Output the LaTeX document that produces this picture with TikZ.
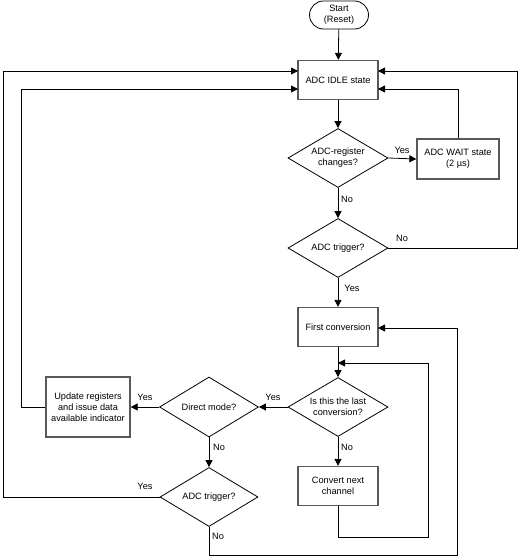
\documentclass[tikz,border=0pt]{standalone}
\usepackage{fontspec}
\setmainfont{Liberation Sans}
\usetikzlibrary{arrows.meta,shapes.geometric}
\begin{document}
\begin{tikzpicture}[x=1pt,y=-1pt,
  font=\fontsize{9.2}{11}\selectfont,
  line width=0.8pt,
  arr/.style={-{Triangle[length=7pt,width=7pt]}},
  procbox/.style={draw=black!65,line width=1.3pt,fill=white,minimum width=80pt,minimum height=39pt,inner sep=1pt,align=center},
  decision/.style={draw,diamond,aspect=1.7,inner sep=0pt,minimum width=100pt,minimum height=59pt,align=center},
  term/.style={draw,rectangle,rounded corners=14pt,minimum width=59pt,minimum height=28pt,inner sep=1pt,align=center},
  lbl/.style={inner sep=0pt,anchor=center}]
\useasboundingbox (0,0) rectangle (518,557);
\node[term] (start) at (339,15) {Start\\(Reset)};
\node[procbox] (idle) at (338,80) {ADC IDLE state};
\node[decision] (d1) at (338,158) {ADC-register\\changes?};
\node[procbox,minimum width=82pt,minimum height=40pt] (wait) at (458,159) {ADC WAIT state\\(2 µs)};
\node[decision] (d2) at (338,248) {ADC trigger?};
\node[procbox] (first) at (338,327) {First conversion};
\node[decision] (d3) at (338,407) {Is this the last\\conversion?};
\node[procbox] (conv) at (338,486) {Convert next\\channel};
\node[decision,minimum width=99pt,minimum height=60pt] (direct) at (209,407) {Direct mode?};
\node[procbox,minimum width=84pt,minimum height=60pt] (upd) at (88,407) {Update registers\\and issue data\\available indicator};
\node[decision,minimum width=98pt] (d4) at (209,497) {ADC trigger?};

\coordinate (idleL1) at (298,71);
\coordinate (idleL2) at (298,89);
\coordinate (idleR1) at (378,71);
\coordinate (idleR2) at (378,89);
\coordinate (loopin) at (338,363);
\coordinate (firstR) at (378,328);

\draw[arr] (start) -- (idle);
\draw[arr] (idle) -- (d1);
\draw[arr] (d1.east) -- (wait.west);
\draw[arr] (wait.north) |- (idleR2);
\draw[arr] (d1.south) -- (d2.north);
\draw[arr] (d2.east) -- (517,248) |- (idleR1);
\draw[arr] (d2.south) -- (first.north);
\draw[arr] (first.south) -- (d3.north);
\draw[arr] (d3.south) -- (conv.north);
\draw[arr] (conv.south) -- (338,537) -- (428,537) |- (loopin);
\draw[arr] (d3.west) -- (direct.east);
\draw[arr] (direct.west) -- (upd.east);
\draw[arr] (upd.west) -- (21,407) |- (idleL2);
\draw[arr] (direct.south) -- (d4.north);
\draw[arr] (d4.west) -- (3,497) |- (idleL1);
\draw[arr] (d4.south) -- (209,555) -- (457,555) |- (firstR);

\node[lbl] (l1) at (402,150) {Yes};
\node[lbl] (l2) at (347,199) {No};
\node[lbl] (l3) at (402,238) {No};
\node[lbl] (l4) at (352,288) {Yes};
\node[lbl] (l5) at (347,447) {No};
\node[lbl] (l6) at (273,397) {Yes};
\node[lbl] (l7) at (145,397) {Yes};
\node[lbl] (l8) at (219,447) {No};
\node[lbl] (l9) at (145,486) {Yes};
\node[lbl] (l10) at (218,536) {No};
\end{tikzpicture}
\end{document}
